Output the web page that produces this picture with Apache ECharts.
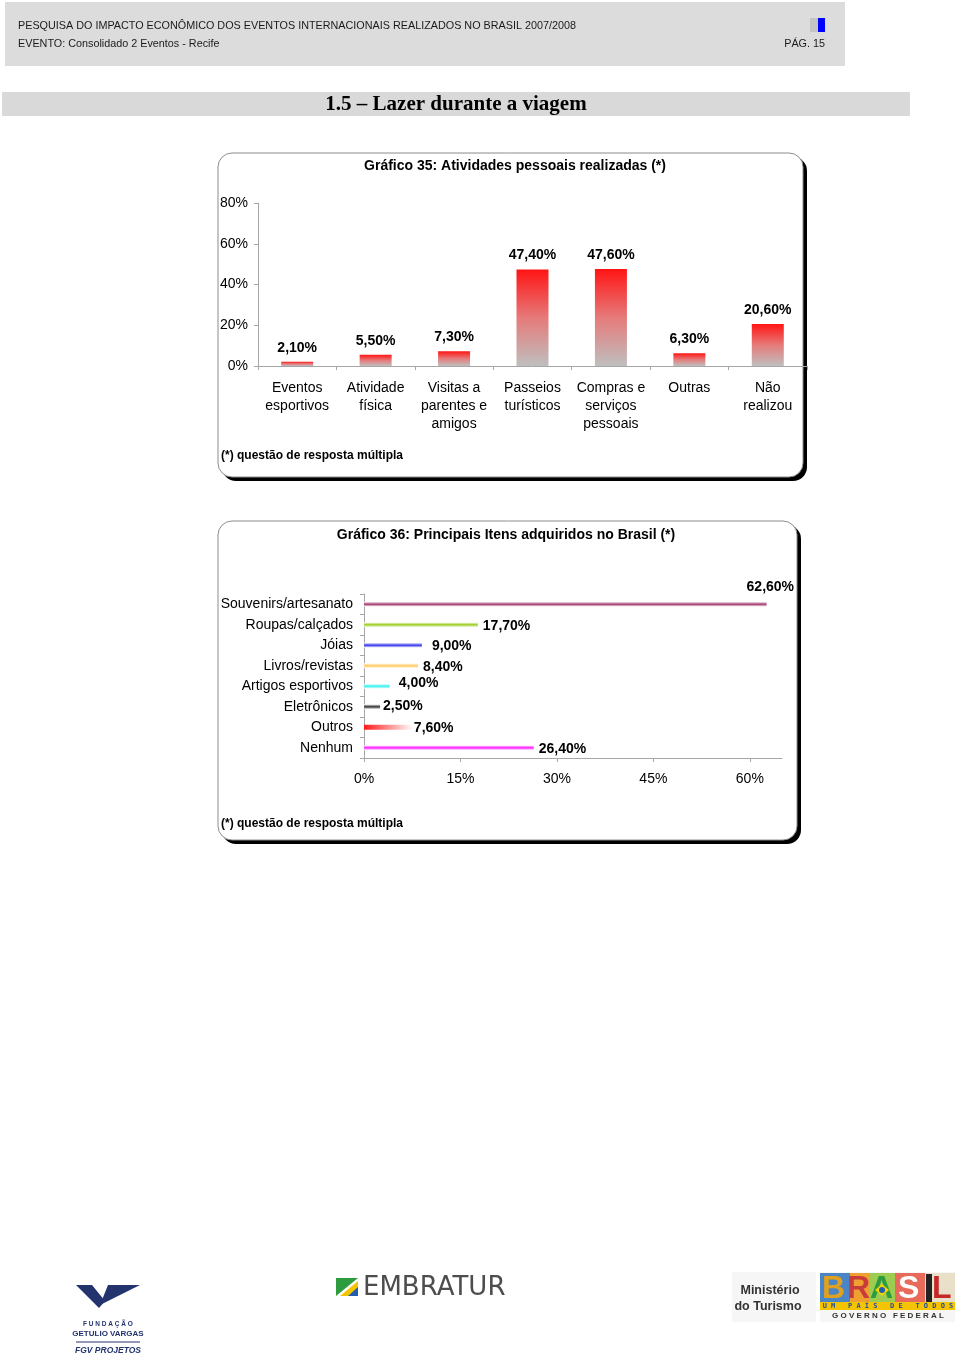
<!DOCTYPE html>
<html><head><meta charset="utf-8">
<script src="https://cdn.jsdelivr.net/npm/echarts@6/dist/echarts.min.js"></script>
<style>html,body{margin:0;padding:0;background:#fff}#c{width:960px;height:1359px}</style>
</head><body><div id="c"></div>
<script>
// ---- data ----
const cat1 = ['Eventos\nesportivos','Atividade\nfísica','Visitas a\nparentes e\namigos','Passeios\nturísticos','Compras e\nserviços\npessoais','Outras','Não\nrealizou'];
const val1 = [2.1, 5.5, 7.3, 47.4, 47.6, 6.3, 20.6];
const yTicks1 = [0, 20, 40, 60, 80];
const cat2 = ['Souvenirs/artesanato','Roupas/calçados','Jóias','Livros/revistas','Artigos esportivos','Eletrônicos','Outros','Nenhum'];
const val2 = [62.6, 17.7, 9.0, 8.4, 4.0, 2.5, 7.6, 26.4];
const xTicks2 = [0, 15, 30, 45, 60];

// ---- styles ----
const FONT = '"Liberation Sans", Arial, sans-serif';
const pct = v => v.toFixed(2).replace('.', ',') + '%';
const colors2 = ['#a3386c','#9acd1e','#3434e8','#ffc85a','#36f0f0','#333333','#ff1a1a','#ff1aff'];
const labOff2 = [[-25,-17],[0,1],[5,1],[0,1],[4,-3],[-2,-1],[-4,1],[0,1]];

function shade(c){
  return new echarts.graphic.LinearGradient(0,0,0,1,[
    {offset:0,color:'#ffffff'},{offset:0.5,color:c},{offset:1,color:'#ffffff'}]);
}

const data2 = val2.map((v,i)=>({
  value: v,
  itemStyle: { color: i===6
    ? new echarts.graphic.LinearGradient(0,0,1,0,[{offset:0,color:'#ff1a1a'},{offset:1,color:'#ffffff'}])
    : shade(colors2[i]) },
  label: { offset: labOff2[i] }
}));

function box(x,y,w,h){
  return [
    {type:'rect', z:-10, shape:{x:x+4,y:y+4,width:w,height:h,r:14}, style:{fill:'#000'}},
    {type:'rect', z:-9, shape:{x:x,y:y,width:w,height:h,r:14}, style:{fill:'#fff',stroke:'#8c8c8c',lineWidth:1}}
  ];
}
function txt(x,y,text,font,extra){
  return {type:'text', z:-8, x:x, y:y, style:Object.assign({text:text, font:font, fill:'#000', verticalAlign:'middle'}, extra||{})};
}

const graphics = [
  // header
  {type:'rect', z:-10, shape:{x:5,y:2,width:840,height:64}, style:{fill:'#dcdcdc'}},
  txt(18,26,'PESQUISA DO IMPACTO ECONÔMICO DOS EVENTOS INTERNACIONAIS REALIZADOS NO BRASIL 2007/2008','10.8px '+FONT,{fill:'#1a1a1a'}),
  txt(18,44,'EVENTO: Consolidado 2 Eventos - Recife','10.8px '+FONT,{fill:'#1a1a1a'}),
  txt(825,44,'PÁG. 15','10.8px '+FONT,{fill:'#1a1a1a', align:'right'}),
  {type:'rect', z:-8, shape:{x:810,y:18,width:8,height:14}, style:{fill:'#c4c4c4'}},
  {type:'rect', z:-8, shape:{x:818,y:18,width:7,height:14}, style:{fill:'#0000ff'}},
  // section title
  {type:'rect', z:-10, shape:{x:2,y:92,width:908,height:24}, style:{fill:'#d9d9d9'}},
  txt(456,105,'1.5 – Lazer durante a viagem','bold 21px "Liberation Serif", "Times New Roman", serif',{align:'center'}),
  // chart boxes
  ...box(218,153,585,324),
  txt(515,166,'Gráfico 35: Atividades pessoais realizadas (*)','bold 14px '+FONT,{align:'center'}),
  txt(221,456,'(*) questão de resposta múltipla','bold 12px '+FONT),
  ...box(218,521,579,319),
  txt(506,535,'Gráfico 36: Principais Itens adquiridos no Brasil (*)','bold 14px '+FONT,{align:'center'}),
  txt(221,824,'(*) questão de resposta múltipla','bold 12px '+FONT),
  // FGV logo
  {type:'polygon', z:-8, shape:{points:[[76,1285],[92,1285],[105,1301],[99,1308]]}, style:{fill:'#22336e'}},
  {type:'polygon', z:-8, shape:{points:[[108,1285],[140,1285],[100,1305]]}, style:{fill:'#22336e'}},
  txt(108,1324,'F U N D A Ç Ã O','bold 6.5px '+FONT,{fill:'#22336e', align:'center'}),
  txt(108,1334,'GETULIO VARGAS','bold 8px '+FONT,{fill:'#22336e', align:'center'}),
  {type:'line', z:-8, shape:{x1:76,y1:1342,x2:140,y2:1342}, style:{stroke:'#22336e',lineWidth:1}},
  txt(108,1351,'FGV PROJETOS','italic bold 8.5px '+FONT,{fill:'#22336e', align:'center'}),
  // Embratur
  {type:'polygon', z:-8, shape:{points:[[336,1278],[358,1278],[336,1296]]}, style:{fill:'#2e9b3e'}},
  {type:'polygon', z:-8, shape:{points:[[358,1281],[358,1296],[340,1296]]}, style:{fill:'#f5c400'}},
  {type:'polygon', z:-8, shape:{points:[[358,1287],[358,1296],[348,1296]]}, style:{fill:'#1f5fae'}},
  txt(363,1288,'EMBRATUR','26px "DejaVu Sans", '+FONT,{fill:'#4d4d4d'}),
  // Ministério / Brasil
  {type:'rect', z:-9, shape:{x:732,y:1272,width:84,height:50}, style:{fill:'#f6f6f6'}},
  txt(770,1291,'Ministério','bold 12.5px '+FONT,{fill:'#333', align:'center'}),
  txt(768,1307,'do Turismo','bold 12.5px '+FONT,{fill:'#333', align:'center'}),
  {type:'rect', z:-9, shape:{x:820,y:1272,width:135,height:50}, style:{fill:'#f6f6f6'}},
  {type:'rect', z:-8, shape:{x:820,y:1273,width:30,height:29}, style:{fill:'#4a86c6'}},
  {type:'rect', z:-8, shape:{x:850,y:1273,width:20,height:29}, style:{fill:'#f0a030'}},
  {type:'rect', z:-8, shape:{x:870,y:1273,width:25,height:29}, style:{fill:'#9ccc50'}},
  {type:'rect', z:-8, shape:{x:895,y:1273,width:30,height:29}, style:{fill:'#e86a5a'}},
  {type:'rect', z:-8, shape:{x:925,y:1273,width:30,height:29}, style:{fill:'#e8e0c8'}},
  txt(822,1289,'B','bold 32px '+FONT,{fill:'#e0a020'}),
  txt(847,1289,'R','bold 32px '+FONT,{fill:'#c83c3c'}),
  txt(870,1289,'A','bold 32px '+FONT,{fill:'#2e9b3e'}),
  {type:'polygon', z:-7, shape:{points:[[875,1290],[882,1284],[889,1290],[882,1296]]}, style:{fill:'#f5d400'}},
  {type:'circle', z:-7, shape:{cx:882,cy:1290,r:3}, style:{fill:'#1f5fae'}},
  txt(898,1289,'S','bold 32px '+FONT,{fill:'#ffffff'}),
  {type:'rect', z:-8, shape:{x:926,y:1274,width:6,height:28}, style:{fill:'#222'}},
  txt(932,1289,'L','bold 32px '+FONT,{fill:'#c62828'}),
  {type:'rect', z:-8, shape:{x:820,y:1302,width:135,height:8}, style:{fill:'#f5c400'}},
  txt(888,1306.5,'U M   P A Í S   D E   T O D O S','bold 7px "DejaVu Sans Mono", monospace',{fill:'#1f4f9e', align:'center'}),
  txt(888,1316,'G O V E R N O   F E D E R A L','bold 8px '+FONT,{fill:'#333', align:'center'})
];

const axisGrey = '#a6a6a6';
const chart = echarts.init(document.getElementById('c'), null, {renderer:'canvas'});
chart.setOption({
  backgroundColor:'#ffffff',
  animation:false,
  textStyle:{fontFamily:FONT},
  graphic: graphics,
  grid:[
    {left:258, top:203, width:549, height:163, containLabel:false},
    {left:364, top:594, width:418, height:164, containLabel:false}
  ],
  xAxis:[
    {gridIndex:0, type:'category', data:cat1,
     axisLine:{lineStyle:{color:axisGrey}}, axisTick:{show:true,length:4,lineStyle:{color:axisGrey}},
     axisLabel:{color:'#000', fontSize:14, lineHeight:18, margin:13, interval:0, fontFamily:FONT}},
    {gridIndex:1, type:'value', min:0, max:65, interval:15,
     axisLine:{show:true,lineStyle:{color:axisGrey}}, axisTick:{show:true,length:4,lineStyle:{color:axisGrey},customValues:xTicks2},
     splitLine:{show:false},
     axisLabel:{color:'#000', fontSize:14, margin:14, fontFamily:FONT, customValues:xTicks2, formatter:v=>v+'%'}}
  ],
  yAxis:[
    {gridIndex:0, type:'value', min:0, max:80, interval:20,
     axisLine:{show:true,lineStyle:{color:axisGrey}}, axisTick:{show:true,length:4,lineStyle:{color:axisGrey},customValues:yTicks1},
     splitLine:{show:false},
     axisLabel:{color:'#000', fontSize:14, margin:10, fontFamily:FONT, customValues:yTicks1, formatter:v=>v+'%'}},
    {gridIndex:1, type:'category', data:cat2, inverse:true,
     axisLine:{lineStyle:{color:axisGrey}}, axisTick:{show:true,length:4,lineStyle:{color:axisGrey}},
     axisLabel:{color:'#000', fontSize:14, margin:11, interval:0, fontFamily:FONT}}
  ],
  series:[
    {type:'bar', xAxisIndex:0, yAxisIndex:0, data:val1, barWidth:32,
     itemStyle:{color:new echarts.graphic.LinearGradient(0,0,0,1,[{offset:0,color:'#ff1414'},{offset:0.5,color:'#e67a7a'},{offset:1,color:'#bfbfbf'}])},
     label:{show:true, position:'top', distance:7, color:'#000', fontWeight:'bold', fontSize:14, fontFamily:FONT, formatter:p=>pct(p.value)}},
    {type:'bar', xAxisIndex:1, yAxisIndex:1, data:data2, barWidth:5,
     label:{show:true, position:'right', distance:5, color:'#000', fontWeight:'bold', fontSize:14, fontFamily:FONT, formatter:p=>pct(p.value)}}
  ]
});
</script>
</body></html>
